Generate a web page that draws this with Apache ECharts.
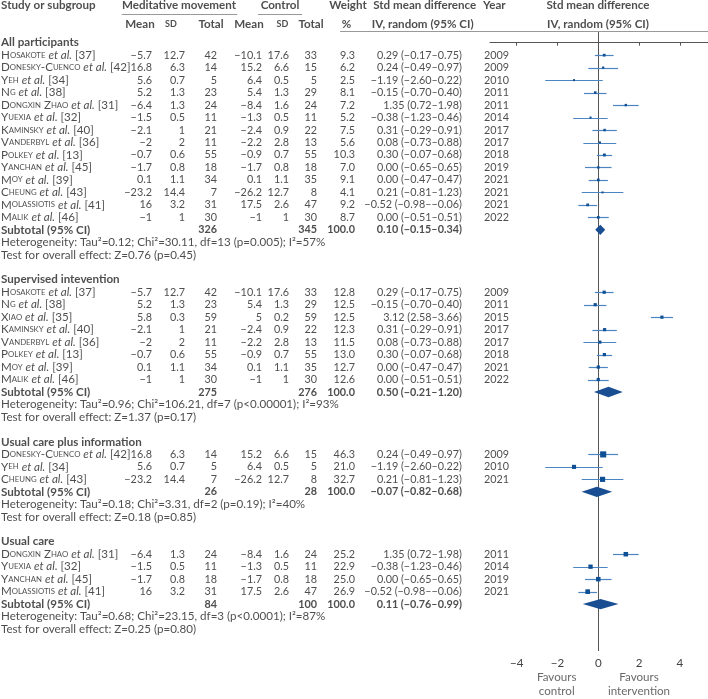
<!DOCTYPE html>
<html><head><meta charset="utf-8">
<script src="https://cdn.jsdelivr.net/npm/echarts@6/dist/echarts.min.js"></script>
<style>html,body{margin:0;padding:0;background:#fff}#c{width:708px;height:699px}</style>
</head><body><div id="c"></div>
<script>
// ---------- DATA ----------
const studyNames = ['Hosakote','Donesky-Cuenco','Yeh','Ng','Dongxin Zhao','Yuexia','Kaminsky','Vanderbyl','Polkey','Yanchan','Moy','Cheung','Molassiotis','Malik','Xiao'];
const studyRefs  = [37,42,34,38,31,32,40,36,13,45,39,43,41,46,35];
const medMean = [-5.7,16.8,5.6,5.2,-6.4,-1.5,-2.1,-2,-0.7,-1.7,0.1,-23.2,16,-1,5.8];
const medSD   = [12.7,6.3,0.7,1.3,1.3,0.5,1,2,0.6,0.8,1.1,14.4,3.2,1,0.3];
const medN    = [42,14,5,23,24,11,21,11,55,18,34,7,31,30,59];
const ctlMean = [-10.1,15.2,6.4,5.4,-8.4,-1.3,-2.4,-2.2,-0.9,-1.7,0.1,-26.2,17.5,-1,5];
const ctlSD   = [17.6,6.6,0.5,1.3,1.6,0.5,0.9,2.8,0.7,0.8,1.1,12.7,2.6,1,0.2];
const ctlN    = [33,15,5,29,24,11,22,13,55,18,35,8,47,30,59];
const smd     = [0.29,0.24,-1.19,-0.15,1.35,-0.38,0.31,0.08,0.30,0.00,0.00,0.21,-0.52,0.00,3.12];
const ciLow   = [-0.17,-0.49,-2.60,-0.70,0.72,-1.23,-0.29,-0.73,-0.07,-0.65,-0.47,-0.81,-0.98,-0.51,2.58];
const ciHigh  = [0.75,0.97,0.22,0.40,1.98,0.46,0.91,0.88,0.68,0.65,0.47,1.23,-0.06,0.51,3.66];
const years   = [2009,2009,2010,2011,2011,2014,2017,2017,2018,2019,2021,2021,2021,2022,2015];

const groupTitles  = ['All participants','Supervised intevention','Usual care plus information','Usual care'];
const groupStudies = [[0,1,2,3,4,5,6,7,8,9,10,11,12,13],[0,3,14,6,7,8,10,13],[1,2,11],[4,5,9,12]];
const groupWeights = [[9.3,6.2,2.5,8.1,7.2,5.2,7.5,5.6,10.3,7.0,9.1,4.1,9.2,8.7],
                      [12.8,12.5,12.5,12.3,11.5,13.0,12.7,12.6],
                      [46.3,21.0,32.7],
                      [25.2,22.9,25.0,26.9]];
const subMedN  = [326,275,26,84];
const subCtlN  = [345,276,28,100];
const subEst   = [0.10,0.50,-0.07,0.11];
const subLow   = [-0.15,-0.21,-0.82,-0.76];
const subHigh  = [0.34,1.20,0.68,0.99];
const hetTexts = ['Heterogeneity: Tau²=0.12; Chi²=30.11, df=13 (p=0.005); I²=57%',
                  'Heterogeneity: Tau²=0.96; Chi²=106.21, df=7 (p<0.00001); I²=93%',
                  'Heterogeneity: Tau²=0.18; Chi²=3.31, df=2 (p=0.19); I²=40%',
                  'Heterogeneity: Tau²=0.68; Chi²=23.15, df=3 (p<0.0001); I²=87%'];
const zTexts   = ['Test for overall effect: Z=0.76 (p=0.45)','Test for overall effect: Z=1.37 (p=0.17)',
                  'Test for overall effect: Z=0.18 (p=0.85)','Test for overall effect: Z=0.25 (p=0.80)'];
const xTicks = [-4,-2,0,2,4];

// ---------- LAYOUT ----------
const W = 708, H = 699;
const ROW0 = 42.7, STEP = 12.476;
const rowOf = px => (px - ROW0) / STEP;
const FONT = 'Lato';
const FS = 11.6, FS_SC = 7.8, FS_NUM = 10.8;
const TXT = '#222';
const PLOT_L = 490, PLOT_TOP = 32, PLOT_BOT = 651;
const COL = {name:1, mMean:152, mSD:185, mN:217, cMean:262, cSD:289, cN:317, w:355, smd:462, year:496.5};

const mfmt = v => String(v).replace('-', '\u2212');
const f2 = v => mfmt(v.toFixed(2));
const f1 = v => mfmt(v.toFixed(1));
const ci = (e,l,h) => f2(e) + ' (' + f2(l) + '\u2013' + f2(h) + ')';
function smallCaps(s){
  let out = '', buf = '';
  for (const ch of s){
    if (/[a-z]/.test(ch)) buf += ch.toUpperCase();
    else { if (buf){ out += '{sc|' + buf + '}'; buf=''; } out += '{n|' + ch + '}'; }
  }
  if (buf) out += '{sc|' + buf + '}';
  return out;
}

// build rows
const leftItems = [], rightItems = [], centerItems = [];
const ciData = [], diaData = [];
let r = 0;
groupTitles.forEach((title, g) => {
  leftItems.push({value:[COL.name, r], t:title, bold:true});
  r++;
  groupStudies[g].forEach((si, k) => {
    const w = groupWeights[g][k];
    leftItems.push({value:[COL.name, r], t: smallCaps(studyNames[si]) + '{n| }{it|et al.}{n| [' + studyRefs[si] + ']}'});
    rightItems.push({value:[COL.mMean, r], t: mfmt(medMean[si]), num:true});
    rightItems.push({value:[COL.mSD, r], t: mfmt(medSD[si]), num:true});
    rightItems.push({value:[COL.mN, r], t: String(medN[si]), num:true});
    rightItems.push({value:[COL.cMean, r], t: mfmt(ctlMean[si]), num:true});
    rightItems.push({value:[COL.cSD, r], t: mfmt(ctlSD[si]), num:true});
    rightItems.push({value:[COL.cN, r], t: String(ctlN[si]), num:true});
    rightItems.push({value:[COL.w, r], t: f1(w), num:true});
    rightItems.push({value:[COL.smd, r], t: ci(smd[si], ciLow[si], ciHigh[si]), num:true});
    centerItems.push({value:[COL.year, r], t: String(years[si]), num:true});
    ciData.push([smd[si], r, ciLow[si], ciHigh[si], Math.max(2, 0.9*Math.sqrt(w))]);
    r++;
  });
  leftItems.push({value:[COL.name, r], t:'Subtotal (95% CI)', bold:true});
  rightItems.push({value:[COL.mN, r], t:String(subMedN[g]), bold:true, num:true});
  rightItems.push({value:[COL.cN, r], t:String(subCtlN[g]), bold:true, num:true});
  rightItems.push({value:[COL.w, r], t:'100.0', bold:true, num:true});
  rightItems.push({value:[COL.smd, r], t:ci(subEst[g], subLow[g], subHigh[g]), bold:true, num:true});
  diaData.push([subEst[g], r, subLow[g], subHigh[g]]);
  r++;
  leftItems.push({value:[COL.name, r], t:hetTexts[g]}); r++;
  leftItems.push({value:[COL.name, r], t:zTexts[g]}); r++;
  r++;
});

// headers
const h1 = rowOf(5.7), h2 = rowOf(24);
leftItems.push({value:[COL.name, h1], t:'Study or subgroup', bold:true});
[[179,'Meditative movement'],[280,'Control'],[348,'Weight'],[424.7,'Std mean difference'],[494.3,'Year'],[598,'Std mean difference']]
  .forEach(([x,t]) => centerItems.push({value:[x,h1], t, bold:true}));
[[140,'Mean'],[171,'{scb|SD}'],[211,'Total'],[249,'Mean'],[282.5,'{scb|SD}'],[311,'Total'],[346.5,'%'],[422.7,'IV, random (95% CI)'],[598,'IV, random (95% CI)']]
  .forEach(([x,t]) => centerItems.push({value:[x,h2], t, bold:true}));
// footer
centerItems.push({value:[556.7, rowOf(684.3)], t:'Favours\ncontrol', foot:true});
centerItems.push({value:[639, rowOf(684.3)], t:'Favours\nintervention', foot:true});

const rich = {
  n:  {fontFamily:FONT, fontSize:FS, color:TXT},
  sc: {fontFamily:FONT, fontSize:FS_SC, color:TXT},
  it: {fontFamily:FONT, fontSize:FS, fontStyle:'italic', color:TXT},
  scb:{fontFamily:FONT, fontSize:9, fontWeight:'bold', color:TXT}
};
function textSeries(items, pos){
  return {
    type:'scatter', xAxisIndex:1, yAxisIndex:1, silent:true, symbolSize:0.1,
    itemStyle:{color:'rgba(0,0,0,0)'},
    data: items.map(it => ({value:it.value, t:it.t,
      label:{fontWeight: it.bold ? 'bold':'normal', fontSize: it.num ? FS_NUM : FS,
             lineHeight: it.foot ? 13.5 : 13, color: it.foot ? '#444' : TXT}})),
    label:{show:true, position:pos, distance:0, fontFamily:FONT, fontSize:FS, color:TXT,
      formatter: p => p.data.t, rich}
  };
}

const chart = echarts.init(document.getElementById('c'), null, {renderer:'canvas'});
const yMinPlot = rowOf(PLOT_TOP), yMaxPlot = rowOf(PLOT_BOT);
chart.setOption({
  animation:false,
  backgroundColor:'#fff',
  grid:[
    {left:PLOT_L, width:W-PLOT_L, top:PLOT_TOP, height:PLOT_BOT-PLOT_TOP, containLabel:false},
    {left:0, width:W, top:0, height:H, containLabel:false}
  ],
  xAxis:[
    {type:'value', gridIndex:0, min:-5.31, max:5.38, position:'bottom',
     axisLine:{show:true, lineStyle:{color:'#555', width:1}},
     axisTick:{show:true, length:3, customValues:xTicks, lineStyle:{color:'#555'}},
     axisLabel:{show:true, customValues:xTicks, margin:6, color:'#444', fontFamily:FONT, fontSize:FS,
       formatter: v => mfmt(v)},
     splitLine:{show:false}},
    {type:'value', gridIndex:1, min:0, max:W, show:false}
  ],
  yAxis:[
    {type:'value', gridIndex:0, inverse:true, min:yMinPlot, max:yMaxPlot, show:false},
    {type:'value', gridIndex:1, inverse:true, min:rowOf(0), max:rowOf(H), show:false}
  ],
  graphic:[
    {type:'line', shape:{x1:121.7,y1:14.5,x2:237.3,y2:14.5}, style:{stroke:'#999', lineWidth:1}},
    {type:'line', shape:{x1:258,y1:14.5,x2:302,y2:14.5}, style:{stroke:'#999', lineWidth:1}},
    {type:'line', shape:{x1:340,y1:31.5,x2:708,y2:31.5}, style:{stroke:'#999', lineWidth:1}}
  ],
  series:[
    {type:'custom', xAxisIndex:0, yAxisIndex:0, silent:true, data:[[0,0]],
     renderItem:(params, api) => {
       const cs = params.coordSys;
       const x = Math.round(api.coord([0,0])[0]) + 0.5;
       return {type:'line', shape:{x1:x, y1:cs.y, x2:x, y2:cs.y+cs.height}, style:{stroke:'#555', lineWidth:1}};
     }},
    {type:'custom', xAxisIndex:0, yAxisIndex:0, silent:true, data:ciData, encode:{x:[0,2,3], y:1},
     renderItem:(params, api) => {
       const est=api.value(0), row=api.value(1), lo=api.value(2), hi=api.value(3), s=api.value(4);
       const a=api.coord([lo,row]), b=api.coord([hi,row]), c=api.coord([est,row]);
       const y = Math.round(c[1]) + 0.5;
       return {type:'group', children:[
         {type:'line', shape:{x1:a[0],y1:y,x2:b[0],y2:y}, style:{stroke:'#4b86c2', lineWidth:1.2}},
         {type:'rect', shape:{x:c[0]-s/2, y:c[1]-s/2, width:s, height:s}, style:{fill:'#0f4f94'}}
       ]};
     }},
    {type:'custom', xAxisIndex:0, yAxisIndex:0, silent:true, data:diaData, encode:{x:[0,2,3], y:1},
     renderItem:(params, api) => {
       const est=api.value(0), row=api.value(1), lo=api.value(2), hi=api.value(3);
       const a=api.coord([lo,row]), b=api.coord([hi,row]), c=api.coord([est,row]);
       const h=5.2;
       return {type:'polygon', shape:{points:[[a[0],c[1]],[c[0],c[1]-h],[b[0],c[1]],[c[0],c[1]+h]]}, style:{fill:'#1a4e93'}};
     }},
    textSeries(leftItems, 'right'),
    textSeries(rightItems, 'left'),
    textSeries(centerItems, 'inside')
  ]
});
</script></body></html>
